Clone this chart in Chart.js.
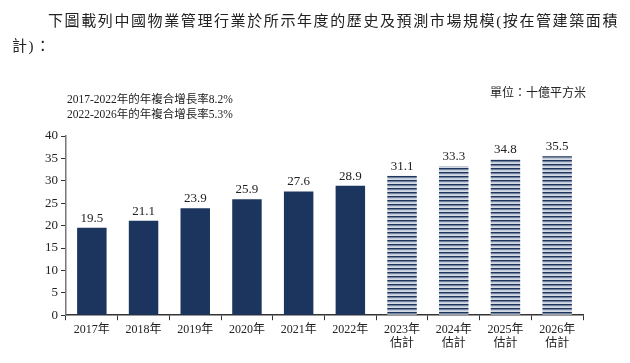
<!DOCTYPE html>
<html>
<head>
<meta charset="utf-8">
<script src="https://cdn.jsdelivr.net/npm/chart.js@4.4.1/dist/chart.umd.min.js"></script>
<style>
  body { margin: 0; background: #fff; }
  #wrap { position: relative; width: 630px; height: 363px; font-family: "Liberation Serif", "Noto Sans CJK TC", serif; color: #222; }
  #wrap canvas { position: absolute; left: 0; top: 0; }
  .txt { position: absolute; white-space: nowrap; }
  #t1 { left: 48px; top: 9px; font-size: 15px; letter-spacing: 1.6px; }
  #t2 { left: 12px; top: 34px; font-size: 15px; letter-spacing: 1.6px; }
  #c1 { left: 67px; top: 90px; font-size: 11.5px; }
  #c2 { left: 67px; top: 105px; font-size: 11.5px; }
  #unit { left: 490px; top: 83px; font-size: 12px; letter-spacing: 0px; }
</style>
</head>
<body>
<div id="wrap">
  <canvas id="chart" width="630" height="363"></canvas>
  <div class="txt" id="t1">下圖載列中國物業管理行業於所示年度的歷史及預測市場規模(按在管建築面積</div>
  <div class="txt" id="t2">計)：</div>
  <div class="txt" id="c1">2017-2022年的年複合增長率8.2%</div>
  <div class="txt" id="c2">2022-2026年的年複合增長率5.3%</div>
  <div class="txt" id="unit">單位：十億平方米</div>
</div>
<script>
/* chart data */
const years    = ["2017年", "2018年", "2019年", "2020年", "2021年", "2022年", "2023年", "2024年", "2025年", "2026年"];
const estimate = [false, false, false, false, false, false, true, true, true, true];
const values   = [19.5, 21.1, 23.9, 25.9, 27.6, 28.9, 31.1, 33.3, 34.8, 35.5];
const yTicks   = [0, 5, 10, 15, 20, 25, 30, 35, 40];

const NAVY = "#1c355e";

/* striped fill for the forecast bars */
function stripes() {
    const pc = document.createElement("canvas");
    pc.width = 4; pc.height = 4;
    const g = pc.getContext("2d");
    g.fillStyle = "#ffffff";
    g.fillRect(0, 0, 4, 4);
    g.fillStyle = NAVY;
    g.fillRect(0, 0, 4, 1.6);
    g.fillStyle = "#9aa8c0";
    g.fillRect(0, 2.4, 4, 1);
    return g.createPattern(pc, "repeat");
}
const striped = stripes();

const labels = years.map((y, i) => estimate[i] ? [y, "估計"] : y);

/* value labels above bars */
const valueLabels = {
    id: "valueLabels",
    afterDatasetsDraw(chart) {
        const ctx = chart.ctx;
        const meta = chart.getDatasetMeta(0);
        ctx.save();
        ctx.font = "13px 'Liberation Serif'";
        ctx.fillStyle = "#222";
        ctx.textAlign = "center";
        ctx.textBaseline = "bottom";
        meta.data.forEach((bar, i) => {
            ctx.fillText(values[i].toFixed(1), bar.x, bar.y - 3);
        });
        ctx.restore();
    }
};

new Chart(document.getElementById("chart").getContext("2d"), {
    type: "bar",
    data: {
        labels: labels,
        datasets: [{
            data: values,
            backgroundColor: values.map((v, i) => estimate[i] ? striped : NAVY),
            borderWidth: 0,
            categoryPercentage: 1,
            barPercentage: 0.57
        }]
    },
    options: {
        responsive: false,
        animation: false,
        layout: { padding: { left: 42, right: 47, top: 136, bottom: 10 } },
        plugins: { legend: { display: false }, tooltip: { enabled: false } },
        scales: {
            x: {
                grid: { display: true, drawOnChartArea: false, offset: true, color: "#333", tickLength: 5, lineWidth: 1 },
                border: { display: true, color: "#333", width: 1.5 },
                ticks: { color: "#222", font: { family: "'Liberation Serif', 'Noto Sans CJK TC'", size: 12 }, padding: 2, maxRotation: 0, autoSkip: false }
            },
            y: {
                min: 0, max: 40,
                afterBuildTicks(scale) { scale.ticks = yTicks.map(v => ({ value: v })); },
                grid: { display: true, drawOnChartArea: false, color: "#333", tickLength: 5 },
                border: { display: true, color: "#777", width: 1.5 },
                ticks: { color: "#222", font: { family: "'Liberation Serif'", size: 13 }, padding: 3 }
            }
        }
    },
    plugins: [valueLabels]
});
</script>
</body>
</html>
